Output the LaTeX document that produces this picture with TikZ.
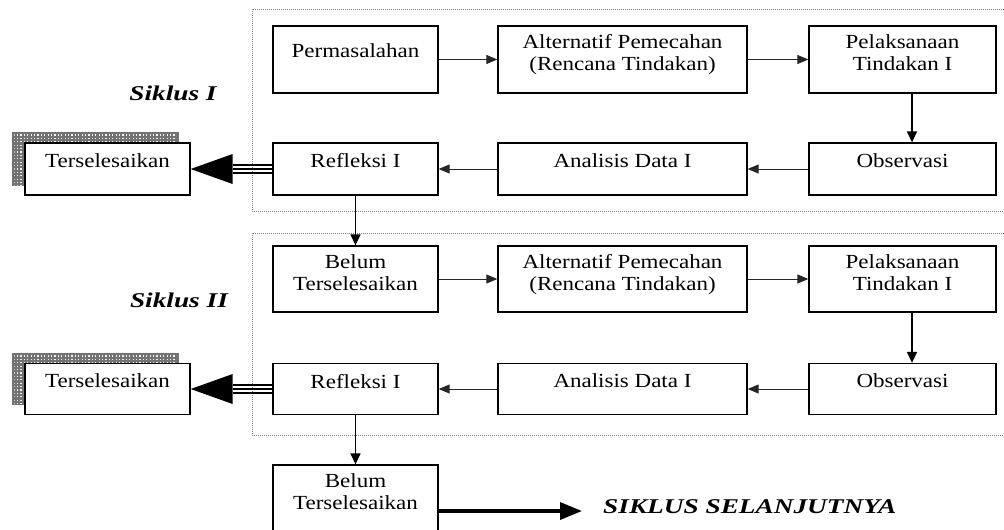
\documentclass[tikz,border=0pt]{standalone}
\usepackage{fontspec}
\setmainfont{Liberation Serif}[FakeStretch=1.15]
\newfontfamily\sikfont{Liberation Serif}[FakeStretch=1.3]
\usetikzlibrary{arrows.meta,patterns,backgrounds}
\pgfdeclarepatternformonly{bigdots}{\pgfqpoint{-1pt}{-1pt}}{\pgfqpoint{3pt}{3pt}}{\pgfqpoint{3.4pt}{3.4pt}}{%
  \pgfpathrectangle{\pgfqpoint{0pt}{0pt}}{\pgfqpoint{1.1pt}{1.1pt}}\pgfusepath{fill}}
\tikzset{
  box/.style 2 args={draw, line width=1.3pt, fill=white, inner sep=0pt,
    minimum width=#1pt, minimum height=#2pt},
  lab/.style={anchor=north, inner sep=0pt, align=center,
    font=\fontsize{20}{22}\selectfont},
  frame/.style={draw=gray, densely dotted, line width=1pt},
  thinarrow/.style={draw=black!85, line width=1pt, -{Triangle[length=11pt,width=9pt]}},
  vertarrow/.style={draw=black, line width=1.4pt, -{Triangle[length=11pt,width=10pt]}},
  sik/.style={font=\sikfont\bfseries\itshape\fontsize{21}{24}\selectfont, inner sep=0pt},
  shadowbox/.style={fill=black!55},
  shadowdots/.style={pattern=bigdots, pattern color=white!90!gray},
  tripleline/.style={line width=1.3pt},
  bigarrow/.style={line width=3.5pt, -{Triangle[length=22pt,width=17pt]}}
}
\begin{document}
\begin{tikzpicture}[x=1pt,y=-1pt]
\clip (0,0) rectangle (1004,530);
% frames
\draw[frame] (252,9) rectangle (1010,211);
\draw[frame] (252,233) rectangle (1010,435);
% Siklus I
\node[box={165}{67}, label={[lab,yshift=-18pt]north:Permasalahan}] (P1) at (355.5,59.5) {};
\node[box={249}{67}, label={[lab,yshift=-9pt]north:Alternatif Pemecahan\\(Rencana Tindakan)}] (A1) at (622.5,59.5) {};
\node[box={187}{67}, label={[lab,yshift=-9pt]north:Pelaksanaan\\Tindakan I}] (L1) at (902.5,59.5) {};
\node[box={165}{52}, label={[lab,yshift=-11pt]north:Refleksi I}] (R1) at (355.5,169) {};
\node[box={249}{52}, label={[lab,yshift=-11pt]north:Analisis Data I}] (D1) at (622.5,169) {};
\node[box={187}{52}, label={[lab,yshift=-11pt]north:Observasi}] (O1) at (902.5,169) {};
\node[box={165}{52}, label={[lab,yshift=-11pt]north:Terselesaikan}] (T1) at (107.5,169) {};
% Siklus II
\node[box={165}{66}, label={[lab,yshift=-9pt]north:Belum\\Terselesaikan}] (B2) at (355.5,279) {};
\node[box={249}{66}, label={[lab,yshift=-9pt]north:Alternatif Pemecahan\\(Rencana Tindakan)}] (A2) at (622.5,279) {};
\node[box={187}{66}, label={[lab,yshift=-9pt]north:Pelaksanaan\\Tindakan I}] (L2) at (902.5,279) {};
\node[box={165}{51}, label={[lab,yshift=-11pt]north:Refleksi I}] (R2) at (355.5,389) {};
\node[box={249}{51}, label={[lab,yshift=-11pt]north:Analisis Data I}] (D2) at (622.5,389) {};
\node[box={187}{51}, label={[lab,yshift=-11pt]north:Observasi}] (O2) at (902.5,389) {};
\node[box={165}{51}, label={[lab,yshift=-11pt]north:Terselesaikan}] (T2) at (107.5,389) {};
% bottom
\node[box={165}{75}, label={[lab,yshift=-9pt]north:Belum\\Terselesaikan}] (B3) at (355.5,502.5) {};
% labels
\node[sik] (S1) at (173,93) {Siklus I};
\node[sik] (S2) at (179,300) {Siklus II};
\node[sik, anchor=west] (SN) at (603,507) {SIKLUS SELANJUTNYA};
\coordinate (NX) at (582,511);
% shadows
\begin{scope}[on background layer]
\foreach \t in {T1,T2}{
  \path[shadowbox] ([xshift=-12pt,yshift=10pt]\t.south west) rectangle ([xshift=-12pt,yshift=10pt]\t.north east);
  \path[shadowdots] ([xshift=-10pt,yshift=8pt]\t.south west) rectangle ([xshift=-14pt,yshift=12pt]\t.north east);
}
\end{scope}
% arrows cycle I
\draw[thinarrow] (P1) -- (A1);
\draw[thinarrow] (A1) -- (L1);
\draw[vertarrow] ([xshift=9.5pt]L1.south) -- ([xshift=9.5pt]O1.north);
\draw[thinarrow] (O1) -- (D1);
\draw[thinarrow] (D1) -- (R1);
\draw[vertarrow] (R1) -- (B2);
% arrows cycle II
\draw[thinarrow] (B2) -- (A2);
\draw[thinarrow] (A2) -- (L2);
\draw[vertarrow] ([xshift=9.5pt]L2.south) -- ([xshift=9.5pt]O2.north);
\draw[thinarrow] (O2) -- (D2);
\draw[thinarrow] (D2) -- (R2);
\draw[vertarrow] (R2) -- (B3);
% double arrows to Terselesaikan
\foreach \r/\t in {R1/T1,R2/T2}{
  \foreach \d in {-4,0,4}
    \draw[tripleline] ([yshift=\d pt]\r.west) -- ([xshift=42pt,yshift=\d pt]\t.east);
  \fill (\t.east) -- ([xshift=42pt,yshift=15pt]\t.east) -- ([xshift=42pt,yshift=-15pt]\t.east) -- cycle;
}
% bottom arrow
\draw[bigarrow] ([yshift=-8.5pt]B3.east) -- (NX);
\end{tikzpicture}
\end{document}
